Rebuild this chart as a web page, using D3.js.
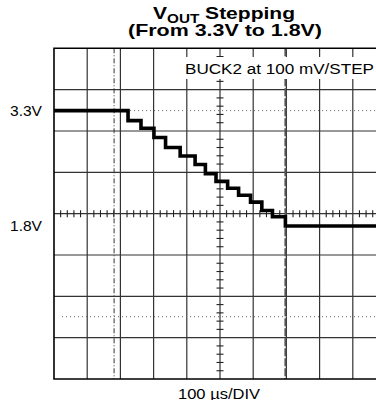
<!DOCTYPE html>
<html>
<head>
<meta charset="utf-8">
<script src="https://d3js.org/d3.v7.min.js"></script>
<style>
    body { margin: 0; background: #fff; }
    text { font-family: "Liberation Sans", Arial, sans-serif; fill: #000; }
</style>
</head>
<body>
<svg id="scope" width="376" height="400"></svg>
<script>
// trace data (time in us, level in V)
var stepTimes = [0, 223, 262, 301, 336, 380, 425, 456, 488, 523, 556, 592, 626, 658, 697, 1000];
var stepVolts = [3.30, 3.17, 3.07, 2.95, 2.82, 2.71, 2.60, 2.48, 2.38, 2.29, 2.20, 2.11, 2.00, 1.92, 1.80, 1.80];

// level labels on the left
var levelLabels = ["3.3V", "1.8V"];
var levelValues = [3.3, 1.8];

// cursors
var dottedLevels = [3.3, 0.62];
var dashDotTime = 181;
var dashedTime = 697;

var xDivs = d3.range(0, 1001, 100);
var yDivs = d3.range(0, 9, 1);

var svg = d3.select("#scope");

// note: "top" is taken by window.top, so use gTop/gBottom
var gLeft = 54, gRight = 386, gTop = 48.3, gBottom = 379;

var xScale = d3.scaleLinear()
    .domain([0, 1000])
    .range([gLeft, gRight]);
var gridY = d3.scaleLinear()
    .domain([0, 8])
    .range([gBottom, gTop]);
// volts -> screen (about 0.54 V per division)
var yScale = d3.scaleLinear()
    .domain([-0.19, 4.11])
    .range([gBottom, gTop]);

var plot = svg.append("g");

// grid
plot.selectAll(".vgrid")
    .data(xDivs.slice(1))
    .enter()
    .append("line")
    .attr("x1", function(d){ return xScale(d); })
    .attr("x2", function(d){ return xScale(d); })
    .attr("y1", gTop)
    .attr("y2", gBottom)
    .attr("stroke", "#333")
    .attr("stroke-width", 1.2);

plot.selectAll(".hgrid")
    .data(yDivs.slice(1, 8))
    .enter()
    .append("line")
    .attr("x1", gLeft)
    .attr("x2", 376)
    .attr("y1", function(d){ return gridY(d); })
    .attr("y2", function(d){ return gridY(d); })
    .attr("stroke", "#333")
    .attr("stroke-width", 1.2);

// minor ticks on the centre cross
var xMinor = d3.range(0, 1000, 20).filter(function(d){ return d % 100 != 0; });
var yMinor = d3.range(0, 8, 0.2).filter(function(d){ return Math.abs(d - Math.round(d)) > 0.01; });

plot.selectAll(".xtick")
    .data(xMinor)
    .enter()
    .append("line")
    .attr("x1", function(d){ return xScale(d); })
    .attr("x2", function(d){ return xScale(d); })
    .attr("y1", gridY(4) - 3.5)
    .attr("y2", gridY(4) + 3.5)
    .attr("stroke", "#222")
    .attr("stroke-width", 1.1);

plot.selectAll(".ytick")
    .data(yMinor)
    .enter()
    .append("line")
    .attr("x1", xScale(500) - 3.5)
    .attr("x2", xScale(500) + 3.5)
    .attr("y1", function(d){ return gridY(d); })
    .attr("y2", function(d){ return gridY(d); })
    .attr("stroke", "#222")
    .attr("stroke-width", 1.1);

// dotted level cursors
plot.selectAll(".dotted")
    .data(dottedLevels)
    .enter()
    .append("line")
    .attr("x1", function(d, i){ return i == 0 ? xScale(dashDotTime) : gLeft + 8; })
    .attr("x2", 376)
    .attr("y1", function(d){ return yScale(d); })
    .attr("y2", function(d){ return yScale(d); })
    .attr("stroke", "#666")
    .attr("stroke-width", 1)
    .attr("stroke-dasharray", "1,3");

// time cursors
plot.append("line")
    .attr("x1", xScale(dashDotTime))
    .attr("x2", xScale(dashDotTime))
    .attr("y1", gTop)
    .attr("y2", gBottom)
    .attr("stroke", "#333")
    .attr("stroke-width", 1)
    .attr("stroke-dasharray", "5,2,1,2");

plot.append("line")
    .attr("x1", xScale(dashedTime))
    .attr("x2", xScale(dashedTime))
    .attr("y1", gTop)
    .attr("y2", gBottom)
    .attr("stroke", "#555")
    .attr("stroke-width", 2)
    .attr("stroke-dasharray", "8,2");

// label box on top of the grid
plot.append("rect")
    .attr("x", 183)
    .attr("y", 57)
    .attr("width", 193)
    .attr("height", 22)
    .attr("fill", "#fff");

plot.append("text")
    .attr("x", 185)
    .attr("y", 74)
    .attr("font-size", 15.5)
    .attr("textLength", 189)
    .attr("lengthAdjust", "spacingAndGlyphs")
    .text("BUCK2 at 100 mV/STEP");

// trace
var line = d3.line()
    .x(function(d){ return xScale(d[0]); })
    .y(function(d){ return yScale(d[1]); })
    .curve(d3.curveStepAfter);

var pts = stepTimes.map(function(t, i){ return [t, stepVolts[i]]; });

plot.append("path")
    .datum(pts)
    .attr("d", line)
    .attr("fill", "none")
    .attr("stroke", "#000")
    .attr("stroke-width", 3.6)
    .attr("stroke-linejoin", "miter");

// frame (right edge is off the picture)
plot.append("path")
    .attr("d", "M376," + gTop + "H" + gLeft + "V" + gBottom + "H376")
    .attr("fill", "none")
    .attr("stroke", "#000")
    .attr("stroke-width", 1.6);

// level labels
svg.selectAll(".lvl")
    .data(levelValues)
    .enter()
    .append("text")
    .attr("x", 42)
    .attr("y", function(d){ return yScale(d) + 5.5; })
    .attr("text-anchor", "end")
    .attr("font-size", 15)
    .attr("textLength", 32)
    .attr("lengthAdjust", "spacingAndGlyphs")
    .text(function(d, i){ return levelLabels[i]; });

// title
var t1 = svg.append("text")
    .attr("x", 153)
    .attr("y", 19)
    .attr("font-size", 16.5)
    .attr("font-weight", "bold")
    .attr("textLength", 142)
    .attr("lengthAdjust", "spacingAndGlyphs");
t1.append("tspan").text("V");
t1.append("tspan").attr("font-size", 12).attr("dy", 3.5).text("OUT");
t1.append("tspan").attr("dy", -3.5).text(" Stepping");

svg.append("text")
    .attr("x", 128)
    .attr("y", 35.5)
    .attr("font-size", 16.5)
    .attr("font-weight", "bold")
    .attr("textLength", 194)
    .attr("lengthAdjust", "spacingAndGlyphs")
    .text("(From 3.3V to 1.8V)");

// x axis caption
svg.append("text")
    .attr("x", 178)
    .attr("y", 398.5)
    .attr("font-size", 15)
    .attr("textLength", 82)
    .attr("lengthAdjust", "spacingAndGlyphs")
    .text("100 \u00b5s/DIV");
</script>
</body>
</html>
